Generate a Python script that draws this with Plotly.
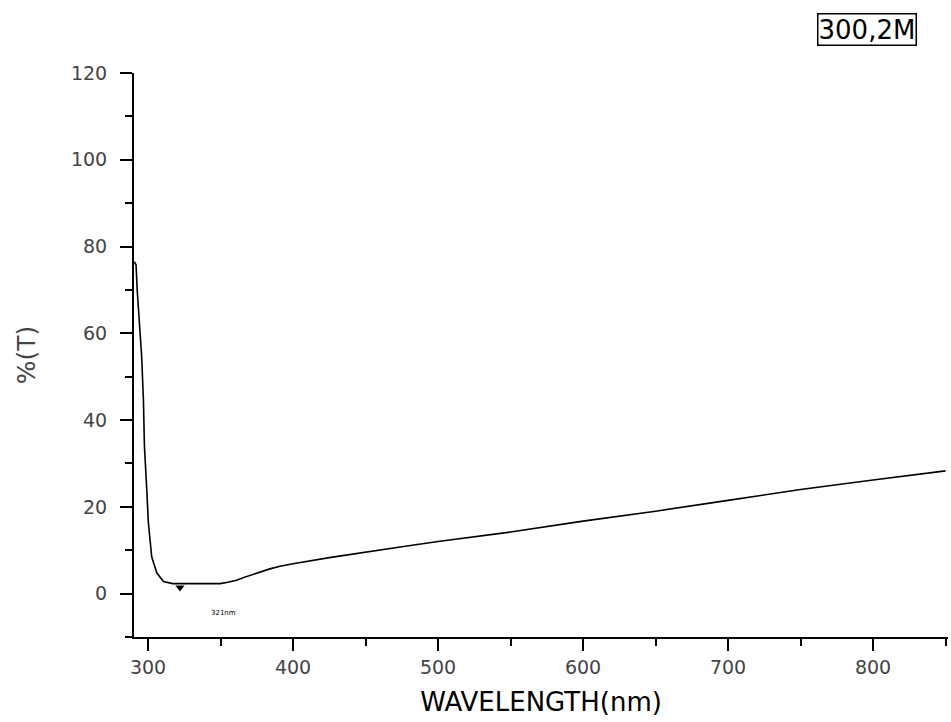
import plotly.graph_objects as go

wavelength = [290.5, 291.7, 292.5, 293.8, 295.6, 296.8, 297.5, 299.1, 300.2, 302.5, 306, 310.6, 317,
              330, 340, 349.7, 355, 361, 366, 372, 378, 384, 391, 400, 425, 450, 475, 500,
              550, 600, 650, 700, 750, 800, 850]
transmittance = [76.5, 75.8, 70, 63.8, 54.6, 44.7, 33.9, 24, 16.4, 8.5, 4.8, 2.8, 2.3,
                 2.3, 2.3, 2.3, 2.6, 3.1, 3.7, 4.4, 5.1, 5.7, 6.3, 6.9, 8.3, 9.6, 10.8, 12.0,
                 14.2, 16.7, 19.0, 21.5, 24.0, 26.2, 28.3]
peak_x = [322]
peak_y = [1.4]
peak_label = ["321nm"]
x_ticks = [300, 400, 500, 600, 700, 800]
y_ticks = [0, 20, 40, 60, 80, 100, 120]

FONT = "DejaVu Sans, Verdana, sans-serif"

fig = go.Figure()
fig.add_trace(go.Scatter(x=wavelength, y=transmittance, mode="lines",
                         line=dict(color="black", width=1.6), showlegend=False,
                         hoverinfo="x+y"))
fig.add_trace(go.Scatter(x=peak_x, y=peak_y, mode="markers",
                         marker=dict(symbol="triangle-down", size=8, color="black"),
                         showlegend=False))
fig.add_annotation(x=peak_x[0] + 30, y=-4.4, text=peak_label[0], showarrow=False,
                   font=dict(family=FONT, size=7, color="black"))
fig.add_annotation(xref="paper", yref="paper", x=0.962, y=1.106, xanchor="right",
                   yanchor="top", text="300,2M", showarrow=False,
                   font=dict(family=FONT, size=26, color="black"),
                   bordercolor="black", borderwidth=1.5, borderpad=0, bgcolor="white")

fig.update_layout(
    width=951, height=722,
    paper_bgcolor="white", plot_bgcolor="white",
    margin=dict(l=134, r=3, t=73, b=85),
    font=dict(family=FONT, color="#444444"),
    xaxis=dict(range=[290.3, 851.7], tickvals=x_ticks, ticks="outside", ticklen=12,
               tickwidth=1.5, tickcolor="black", showline=True, linecolor="black", linewidth=2,
               showgrid=False, zeroline=False, tickfont=dict(size=19, color="#444444"),
               ticklabelstandoff=0,
               minor=dict(dtick=50, tick0=0, ticks="outside", ticklen=7, tickwidth=1.5,
                          tickcolor="black"),
               title=dict(text="WAVELENGTH(nm)", font=dict(size=26, color="black"), standoff=16)),
    yaxis=dict(range=[-10, 120], tickvals=y_ticks, ticks="outside", ticklen=12,
               tickwidth=1.5, tickcolor="black", showline=True, linecolor="black", linewidth=2,
               showgrid=False, zeroline=False, tickfont=dict(size=19, color="#444444"),
               ticklabelstandoff=9,
               minor=dict(dtick=10, tick0=0, ticks="outside", ticklen=7, tickwidth=1.5,
                          tickcolor="black"),
               title=dict(text="%(T)", font=dict(size=25, color="#444444"), standoff=28)),
)

fig.write_html("out.html")
